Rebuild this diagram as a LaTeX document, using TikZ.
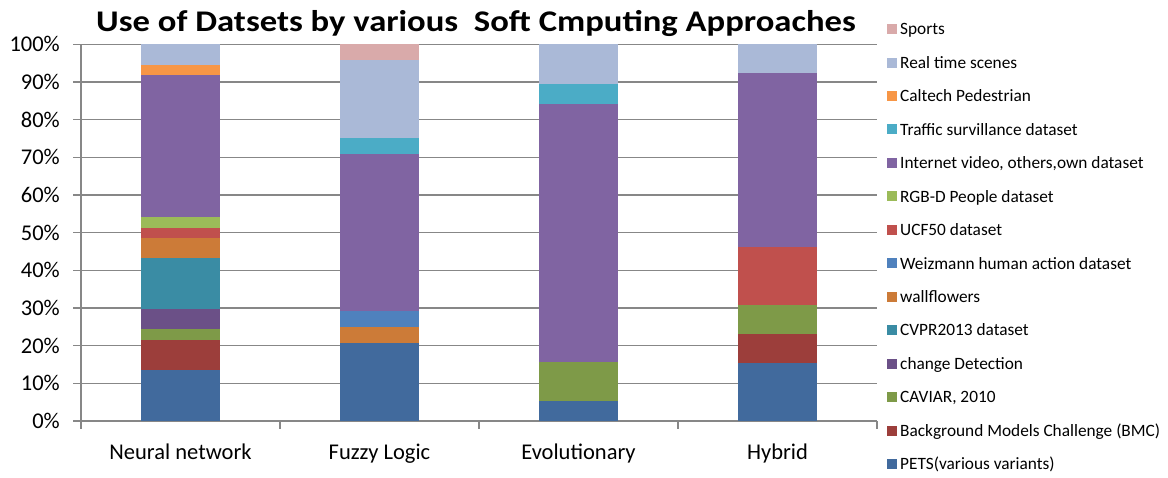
\documentclass[tikz,border=0pt]{standalone}
\usepackage{fontspec}
\usepackage{graphicx}
\setmainfont{Carlito}
\usetikzlibrary{positioning}

% barvy sérií
\definecolor{pets}{HTML}{416A9D}
\definecolor{bmc}{HTML}{9C3E3B}
\definecolor{caviar}{HTML}{7E9A48}
\definecolor{change}{HTML}{6B5087}
\definecolor{cvpr}{HTML}{3A8CA4}
\definecolor{wall}{HTML}{CC7B38}
\definecolor{weiz}{HTML}{4F81BD}
\definecolor{ucf}{HTML}{C0504D}
\definecolor{rgbd}{HTML}{9BBB59}
\definecolor{inet}{HTML}{8064A2}
\definecolor{traffic}{HTML}{4BACC6}
\definecolor{caltech}{HTML}{F79646}
\definecolor{realtime}{HTML}{AAB9D7}
\definecolor{sports}{HTML}{D9AAAA}
\definecolor{gridgray}{HTML}{878787}

\begin{document}
\begin{tikzpicture}[x=1pt,y=-1pt]

    % rozměry grafu (v pixelech, y dolů)
    \def\xo{81}
    \def\yo{421}
    \def\hh{376.7}
    \def\cw{199}
    \def\bw{79}

    % styly
    \tikzset{
        grid line/.style={draw=gridgray, line width=1.6pt},
        tick label/.style={font=\fontsize{22.5}{26}\selectfont, anchor=east, inner sep=0pt},
        cat label/.style={font=\fontsize{22.5}{26}\selectfont, anchor=base, inner sep=0pt},
        legend key/.style={minimum size=10pt, inner sep=0pt},
        legend text/.style={font=\fontsize{17.3}{20}\selectfont, anchor=base west, inner sep=0pt}
    }

    % pomocné makro pro jeden díl sloupce
    % #1 = index sloupce, #2 = od, #3 = do, #4 = celkem, #5 = barva
    \newcommand{\barseg}[5]{%
        \fill[#5] ({\xo+\cw*(#1+0.5)-\bw/2},{\yo-\hh*#2/#4})
            rectangle ({\xo+\cw*(#1+0.5)+\bw/2},{\yo-\hh*#3/#4});
    }

    \useasboundingbox (0,0) rectangle (1168,477);

    % nadpis
    \node[font=\bfseries\fontsize{30}{34}\selectfont, anchor=base, inner sep=0pt]
        (title) at (476,31.7) {\scalebox{1.155}[1]{Use of Datsets by various\ \ Soft Cmputing Approaches}};

    % mřížka a popisky osy y
    \foreach \i in {0,...,10} {
        \pgfmathtruncatemacro{\p}{10*\i}
        \draw[grid line] (73,{\yo-\hh*\i/10}) -- (877,{\yo-\hh*\i/10});
        \node[tick label] (t\i) at (60,{\yo-\hh*\i/10}) {\p\%};
    }

    % osy
    \draw[grid line] (\xo,{\yo-\hh}) -- (\xo,429);
    \foreach \k in {1,...,4} {
        \draw[grid line] ({\xo+\cw*\k},\yo) -- ({\xo+\cw*\k},429);
    }

    % --- sloupce ---
    % Neural network
    \foreach \lo/\hi/\c in {0/5/pets, 5/8/bmc, 8/9/caviar, 9/11/change, 11/16/cvpr,
        16/18/wall, 18/19/ucf, 19/20/rgbd, 20/34/inet, 34/35/caltech, 35/37/realtime} {
        \barseg{0}{\lo}{\hi}{37}{\c}
    }

    % Fuzzy Logic
    \foreach \lo/\hi/\c in {0/5/pets, 5/6/wall, 6/7/weiz, 7/17/inet, 17/18/traffic,
        18/23/realtime, 23/24/sports} {
        \barseg{1}{\lo}{\hi}{24}{\c}
    }

    % Evolutionary
    \foreach \lo/\hi/\c in {0/1/pets, 1/3/caviar, 3/16/inet, 16/17/traffic, 17/19/realtime} {
        \barseg{2}{\lo}{\hi}{19}{\c}
    }

    % Hybrid
    \foreach \lo/\hi/\c in {0/2/pets, 2/3/bmc, 3/4/caviar, 4/6/ucf, 6/12/inet, 12/13/realtime} {
        \barseg{3}{\lo}{\hi}{13}{\c}
    }

    % popisky kategorií
    \foreach \name [count=\k from 0] in {Neural network, Fuzzy Logic, Evolutionary, Hybrid} {
        \node[cat label] (cat\k) at ({\xo+\cw*(\k+0.5)},459) {\name};
    }

    % legenda
    \foreach \c/\txt [count=\i from 0] in {sports/Sports, realtime/Real time scenes,
        caltech/Caltech Pedestrian, traffic/Traffic survillance dataset,
        inet/{Internet video, others,own dataset}, rgbd/RGB-D People dataset,
        ucf/UCF50 dataset, weiz/Weizmann human action dataset, wall/wallflowers,
        cvpr/CVPR2013 dataset, change/change Detection, caviar/{CAVIAR, 2010},
        bmc/Background Models Challenge (BMC), pets/PETS(various variants)} {
        \node[legend key, fill=\c] (k\i) at (892,{29.1+33.45*\i}) {};
        \node[legend text] (l\i) at (900,{29.1+33.45*\i+5.8}) {\txt};
    }

\end{tikzpicture}
\end{document}
